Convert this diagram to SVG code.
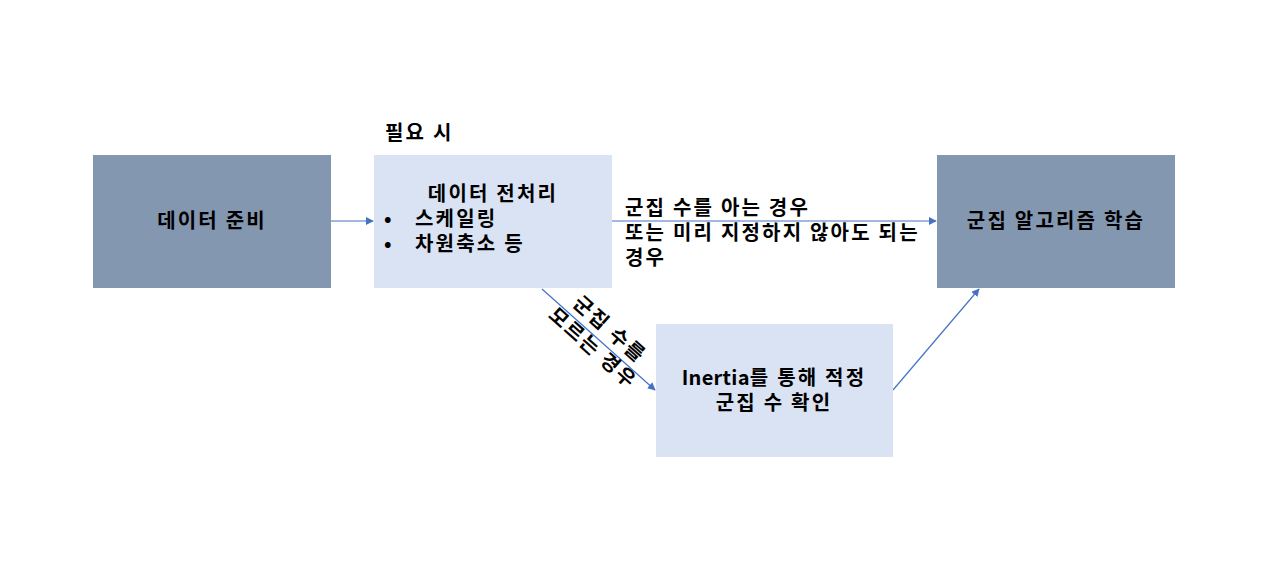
<svg xmlns="http://www.w3.org/2000/svg" width="1280" height="576" viewBox="0 0 1280 576">
<style>
.dark{fill:#8497B0}
.light{fill:#DAE3F3}
.t{font-family:"Noto Sans CJK KR","Liberation Sans",sans-serif;font-size:20px;font-weight:bold;fill:#000;letter-spacing:2.2px}
.c{text-anchor:middle}
.lat{letter-spacing:0.3px}
.ln{stroke:#4472C4;stroke-width:1.2;fill:none}
</style>
<defs>
<marker id="ah" viewBox="0 0 10 10" refX="9" refY="5" markerWidth="8" markerHeight="8" markerUnits="userSpaceOnUse" orient="auto">
<path d="M0,0 L10,5 L0,10 z" fill="#4472C4"/>
</marker>
</defs>
<rect width="1280" height="576" fill="#fff"/>
<g id="connectors">
<line class="ln" x1="331" y1="221" x2="373" y2="221" marker-end="url(#ah)"/>
<line class="ln" x1="612" y1="221" x2="936" y2="221" marker-end="url(#ah)"/>
<line class="ln" x1="542" y1="289" x2="655" y2="390" marker-end="url(#ah)"/>
<line class="ln" x1="893" y1="390" x2="979" y2="289" marker-end="url(#ah)"/>
<text class="t c" transform="translate(601,339) rotate(41.6)"><tspan x="0" y="-6">군집 수를</tspan><tspan x="0" y="19">모르는 경우</tspan></text>
<text class="t"><tspan x="625" y="215">군집 수를 아는 경우</tspan><tspan x="625" y="240">또는 미리 지정하지 않아도 되는</tspan><tspan x="625" y="265">경우</tspan></text>
</g>
<g id="prep">
<rect class="dark" x="93" y="155" width="238" height="133"/>
<text class="t c" x="212" y="228">데이터 준비</text>
</g>
<g id="preprocess">
<text class="t" x="385" y="140">필요 시</text>
<rect class="light" x="374" y="155" width="238" height="133"/>
<text class="t c" x="493" y="201">데이터 전처리</text>
<text class="t"><tspan x="384" y="226">•</tspan><tspan x="415" y="226">스케일링</tspan><tspan x="384" y="251">•</tspan><tspan x="415" y="251">차원축소 등</tspan></text>
</g>
<g id="train">
<rect class="dark" x="937" y="155" width="238" height="133"/>
<text class="t c" x="1056" y="228">군집 알고리즘 학습</text>
</g>
<g id="inertia">
<rect class="light" x="656" y="324" width="237" height="133"/>
<text class="t c" x="774" y="385"><tspan class="lat">Inertia</tspan>를 통해 적정</text>
<text class="t c" x="774" y="410">군집 수 확인</text>
</g>
</svg>
